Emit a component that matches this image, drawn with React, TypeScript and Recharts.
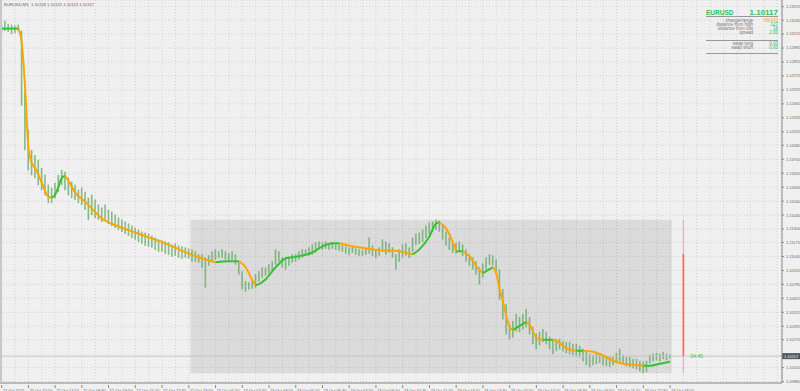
import React from "react";
import {
  ComposedChart,
  Bar,
  Line,
  XAxis,
  YAxis,
  CartesianGrid,
  ReferenceArea,
  ReferenceLine,
  ReferenceDot,
} from "recharts";

// 10-minute high/low of EURUSD, 22 Oct 14:30 -> 23 Oct 23:50
const highs = [
  1.13203, 1.1324, 1.13212, 1.13203, 1.13194, 1.13203, 1.13147, 1.12592, 1.12222, 1.12037,
  1.1199, 1.11944, 1.1187, 1.11805, 1.11713, 1.11685, 1.11731, 1.11805, 1.11851, 1.11833,
  1.11777, 1.1174, 1.11713, 1.11666, 1.11685, 1.11648, 1.11592, 1.1162, 1.11574, 1.11528,
  1.115, 1.11528, 1.11481, 1.11463, 1.11435, 1.11407, 1.11389, 1.1137, 1.11352, 1.11333,
  1.11315, 1.11296, 1.11278, 1.11268, 1.11259, 1.11241, 1.11222, 1.11204, 1.11194, 1.11185,
  1.11176, 1.11157, 1.11167, 1.11148, 1.11139, 1.1113, 1.1112, 1.11111, 1.11093, 1.11065,
  1.11065, 1.11037, 1.11055, 1.11093, 1.11111, 1.11093, 1.11111, 1.11093, 1.11074, 1.11093,
  1.11065, 1.11, 1.10907, 1.10815, 1.10806, 1.10833, 1.1088, 1.10907, 1.10944, 1.10944,
  1.10972, 1.11, 1.11111, 1.11093, 1.11037, 1.11018, 1.11037, 1.11065, 1.11065, 1.11093,
  1.11111, 1.11111, 1.1113, 1.11157, 1.11176, 1.11185, 1.11176, 1.11185, 1.11167, 1.11176,
  1.11167, 1.11157, 1.11148, 1.11139, 1.1113, 1.11139, 1.1112, 1.11111, 1.11102, 1.1113,
  1.11222, 1.11148, 1.11111, 1.1113, 1.11204, 1.11185, 1.11167, 1.1113, 1.11065, 1.11111,
  1.11157, 1.11167, 1.1113, 1.11222, 1.11259, 1.11268, 1.11296, 1.11333, 1.11361, 1.1137,
  1.11389, 1.1138, 1.11342, 1.11278, 1.11222, 1.11185, 1.11167, 1.11185, 1.11157, 1.11111,
  1.11065, 1.11037, 1.11, 1.10944, 1.10981, 1.11037, 1.11065, 1.11055, 1.11018, 1.10926,
  1.10741, 1.10602, 1.10417, 1.10445, 1.10509, 1.10482, 1.10509, 1.10556, 1.10482, 1.10389,
  1.10324, 1.10343, 1.1037, 1.10343, 1.10296, 1.10259, 1.10278, 1.10278, 1.10259, 1.1025,
  1.1025, 1.10232, 1.10232, 1.10213, 1.10185, 1.10158, 1.10139, 1.1013, 1.10139, 1.10139,
  1.1013, 1.10121, 1.10111, 1.10111, 1.10148, 1.10185, 1.1013, 1.10111, 1.10111, 1.10093,
  1.10093, 1.10074, 1.10065, 1.10074, 1.1013, 1.10139, 1.10148, 1.10139, 1.10158, 1.10139,
  1.1013,
];
const lows = [
  1.13129, 1.13147, 1.13138, 1.1312, 1.13129, 1.13147, 1.12453, 1.12037, 1.11851, 1.11805,
  1.11777, 1.11713, 1.11666, 1.1162, 1.11546, 1.11546, 1.11592, 1.11648, 1.11713, 1.11666,
  1.1162, 1.11592, 1.11574, 1.11546, 1.11528, 1.11481, 1.11389, 1.11435, 1.11407, 1.11389,
  1.1137, 1.11389, 1.11352, 1.11333, 1.11315, 1.11296, 1.11278, 1.11259, 1.11241, 1.11222,
  1.11204, 1.11185, 1.11167, 1.11148, 1.11139, 1.1113, 1.11111, 1.11093, 1.11093, 1.11074,
  1.11065, 1.11046, 1.11055, 1.11037, 1.11028, 1.11037, 1.11028, 1.11, 1.11, 1.10991,
  1.10944, 1.10759, 1.10963, 1.11, 1.11018, 1.11037, 1.11037, 1.11018, 1.11, 1.11018,
  1.10972, 1.1088, 1.10741, 1.10722, 1.10741, 1.1075, 1.10759, 1.10815, 1.10852, 1.1087,
  1.1088, 1.10907, 1.10972, 1.11, 1.10944, 1.10926, 1.10963, 1.10991, 1.11, 1.11018,
  1.11037, 1.11055, 1.11055, 1.11065, 1.11083, 1.11111, 1.11111, 1.1112, 1.11111, 1.1112,
  1.11111, 1.11102, 1.11093, 1.11074, 1.11065, 1.11083, 1.11065, 1.11055, 1.11055, 1.11065,
  1.11074, 1.11055, 1.11037, 1.11055, 1.11093, 1.11065, 1.11083, 1.11037, 1.10926, 1.11,
  1.11037, 1.11055, 1.11037, 1.11093, 1.11157, 1.11167, 1.11185, 1.11222, 1.1125, 1.11278,
  1.11296, 1.11278, 1.11204, 1.11148, 1.11111, 1.11083, 1.11074, 1.11093, 1.11055, 1.11,
  1.10963, 1.10926, 1.1088, 1.10787, 1.10852, 1.10926, 1.10972, 1.10963, 1.1088, 1.10648,
  1.10463, 1.10324, 1.10278, 1.10296, 1.10352, 1.10343, 1.1037, 1.10389, 1.10324, 1.10232,
  1.10185, 1.10222, 1.1025, 1.10232, 1.10185, 1.10139, 1.10167, 1.10185, 1.10167, 1.10148,
  1.10139, 1.1013, 1.10121, 1.10111, 1.10074, 1.10037, 1.10019, 1.10037, 1.10046, 1.10056,
  1.10037, 1.10028, 1.10019, 1.10037, 1.10056, 1.10074, 1.10046, 1.10028, 1.10019, 1.10009,
  1.1, 1.09982, 1.09963, 1.09972, 1.10056, 1.10074, 1.10083, 1.10074, 1.10093, 1.10083,
  1.10102,
];

// smoothed moving average, sampled at these bar indices
const maIdx = [
  0, 3, 5, 6, 7, 8, 9, 10, 12, 14, 15, 16, 17, 18, 19, 20, 22, 25, 27, 30, 35, 40, 44, 49, 53,
  59, 64, 68, 71, 73, 75, 76, 77, 79, 82, 85, 87, 89, 93, 96, 99, 101, 105, 109, 113, 117, 119,
  123, 125, 128, 130, 131, 133, 135, 136, 138, 140, 142, 144, 146, 147, 148, 149, 150, 151, 152,
  153, 155, 157, 158, 159, 160, 162, 165, 166, 168, 170, 172, 174, 177, 180, 183, 186, 189, 192,
  194, 197, 200,
];
const maVal = [
  1.13166, 1.13166, 1.13166, 1.13036, 1.1262, 1.12064, 1.11916, 1.1187, 1.11731, 1.11602,
  1.11592, 1.1162, 1.11694, 1.11777, 1.11796, 1.1175, 1.11639, 1.11555, 1.1149, 1.11398,
  1.11324, 1.11268, 1.11222, 1.11167, 1.11111, 1.11037, 1.10991, 1.11, 1.11, 1.10944,
  1.10824, 1.10778, 1.10787, 1.10833, 1.10944, 1.11028, 1.11037, 1.11046, 1.11083, 1.11139,
  1.11167, 1.11167, 1.11139, 1.1112, 1.11102, 1.11098, 1.11093, 1.11065, 1.11111, 1.11231,
  1.11352, 1.11361, 1.11305, 1.11176, 1.11093, 1.11093, 1.11046, 1.10954, 1.10889, 1.10926,
  1.10944, 1.10889, 1.10741, 1.1062, 1.10491, 1.10389, 1.10361, 1.10398, 1.10435, 1.10408,
  1.10343, 1.10287, 1.10269, 1.10269, 1.10259, 1.10213, 1.10176, 1.10167, 1.10167, 1.10158,
  1.10121, 1.10074, 1.10047, 1.10037, 1.10028, 1.10028, 1.10047, 1.10065,
];

const timeLabels = [
  "22 Oct 2015", "22 Oct 15:50", "22 Oct 17:10", "22 Oct 18:30", "22 Oct 19:50", "22 Oct 21:10",
  "22 Oct 22:30", "22 Oct 23:50", "23 Oct 01:10", "23 Oct 02:30", "23 Oct 03:50", "23 Oct 05:10",
  "23 Oct 06:30", "23 Oct 07:50", "23 Oct 09:10", "23 Oct 10:30", "23 Oct 11:50", "23 Oct 13:10",
  "23 Oct 14:30", "23 Oct 15:50", "23 Oct 17:10", "23 Oct 18:30", "23 Oct 19:50", "23 Oct 21:10",
  "23 Oct 22:30", "23 Oct 23:50",
];
// 1.10140 sits under the bid tag in the reference, so it is left out
const priceTicks = [
  1.1337, 1.13245, 1.13115, 1.12985, 1.12855, 1.12725, 1.12595, 1.12465, 1.12335, 1.12205,
  1.1208, 1.1195, 1.1182, 1.1169, 1.1156, 1.1143, 1.113, 1.11175, 1.11045, 1.10915, 1.10785,
  1.10655, 1.10525, 1.10395, 1.1027, 1.1001, 1.0988,
];

const bid = 1.10117;
const dayOpen = 1.11067;
const dayHigh = 1.11387;
const dayLow = 1.09957;
const sessionStartBar = 57;
const markerBar = 204;
const SLOTS = 234; // bar slots incl. empty space right of the last bar
const LABEL_EVERY = 8;

const GREEN = "#34c234";
const ORANGE = "#ffa500";
const INFO_GREEN = "#2fbf5f";

const rows: any[] = Array.from({ length: SLOTS }, (_, i) => {
  const r: any = { i };
  if (i < highs.length) r.hl = [lows[i], highs[i]];
  return r;
});

// split the MA into rising (green) / falling (orange) runs
const runs: { key: string; up: boolean }[] = [];
let lastUp: boolean | null = null;
for (let j = 0; j < maIdx.length - 1; j++) {
  const up = maVal[j + 1] >= maVal[j];
  if (up !== lastUp) {
    runs.push({ key: `ma${runs.length}`, up });
    rows[maIdx[j]][runs[runs.length - 1].key] = maVal[j];
    lastUp = up;
  }
  rows[maIdx[j + 1]][runs[runs.length - 1].key] = maVal[j + 1];
}

const gridTicks = rows.filter((r) => r.i % 4 === 0).map((r) => r.i);

const HiLoBar = (p: any) => {
  const { x, y, width, height } = p;
  if (x == null || y == null || !height) return null;
  const cx = x + width / 2;
  const top = Math.min(y, y + height);
  const bot = Math.max(y, y + height);
  return (
    <g stroke="#62a862" strokeOpacity={0.75}>
      <line x1={cx} x2={cx} y1={top} y2={bot + 0.5} strokeWidth={1.6} />
    </g>
  );
};

const TimeTick = (p: any) => {
  const { x, y, payload } = p;
  const i = payload.value;
  if (i % LABEL_EVERY !== 0 || i / LABEL_EVERY >= timeLabels.length) return null;
  return (
    <g>
      <line x1={x} x2={x} y1={y - 2} y2={y + 1} stroke="#888" />
      <text x={x + 1} y={y + 4.5} fontSize={4} fill="#666">
        {timeLabels[i / LABEL_EVERY]}
      </text>
    </g>
  );
};

const PriceTag = (p: any) => {
  const vb = p.viewBox;
  if (!vb) return null;
  const x = vb.x + vb.width;
  return (
    <g>
      <rect x={x} y={vb.y - 3} width={18} height={6} fill="#555" />
      <text x={x + 2} y={vb.y + 1.5} fontSize={4} fill="#fff">
        {bid.toFixed(5)}
      </text>
    </g>
  );
};

const info = [
  { label: "change/range", value: "-95/143", color: ORANGE },
  { label: "distance from high", value: "127", color: INFO_GREEN },
  { label: "distance from low", value: "16", color: INFO_GREEN },
  { label: "spread", value: "2.00", color: INFO_GREEN },
];
const swaps = [
  { label: "swap long", value: "0.00" },
  { label: "swap short", value: "0.00" },
];

export default function App() {
  return (
    <div
      style={{
        position: "absolute",
        left: 0,
        top: 0,
        width: 800,
        height: 391,
        background: "#f0f0f0",
        fontFamily: "'Liberation Sans', Arial, sans-serif",
        overflow: "hidden",
      }}
    >
      <ComposedChart width={800} height={391} data={rows} margin={{ top: 0, right: 0, left: 0, bottom: 0 }} barCategoryGap={0}>
        <CartesianGrid stroke="#d2d2d2" strokeDasharray="1 2" />
        <ReferenceArea
          x1={sessionStartBar}
          x2={highs.length - 1}
          y1={dayLow}
          y2={dayHigh}
          fill="#000"
          fillOpacity={0.085}
          stroke="none"
        />
        <XAxis
          dataKey="i"
          type="category"
          ticks={gridTicks}
          interval={0}
          height={8}
          tickSize={2}
          tickLine={false}
          axisLine={{ stroke: "#888" }}
          tick={<TimeTick />}
        />
        <YAxis
          orientation="right"
          width={18}
          type="number"
          domain={[1.09867, 1.13432]}
          allowDataOverflow
          ticks={priceTicks}
          interval={0}
          tickSize={2}
          tickLine={{ stroke: "#888" }}
          axisLine={{ stroke: "#888" }}
          tick={{ fontSize: 4, fill: "#666" }}
          tickFormatter={(v: number) => v.toFixed(5)}
        />
        <ReferenceLine y={bid} stroke="#c4c4c4" label={<PriceTag />} />
        <Bar dataKey="hl" shape={<HiLoBar />} isAnimationActive={false} />
        {runs.map((r) => (
          <Line
            key={r.key}
            dataKey={r.key}
            type="monotone"
            stroke={r.up ? GREEN : ORANGE}
            strokeWidth={2}
            dot={false}
            activeDot={false}
            connectNulls
            isAnimationActive={false}
          />
        ))}
        <ReferenceLine
          segment={[
            { x: markerBar, y: dayHigh },
            { x: markerBar, y: dayLow },
          ]}
          stroke="#f3aabb"
          strokeWidth={1.3}
        />
        <ReferenceLine
          segment={[
            { x: markerBar, y: dayOpen },
            { x: markerBar, y: bid },
          ]}
          stroke="#ff6a3d"
          strokeWidth={1.6}
        />
        <ReferenceDot
          x={markerBar + 4}
          y={bid}
          r={0}
          label={{ value: "24:45", position: "center", fill: "#3cc83c", fontSize: 5 }}
        />
      </ComposedChart>

      <div style={{ position: "absolute", left: 0, top: 0, width: 1.5, height: 383, background: "#c8c8c8" }} />
      <div style={{ position: "absolute", left: 4, top: 2, fontSize: 4.2, color: "#666", whiteSpace: "pre" }}>
        EURUSD,M5  1.10118 1.10122 1.10113 1.10117
      </div>

      <div style={{ position: "absolute", left: 706, top: 6, width: 72, fontSize: 4.5, lineHeight: "4px" }}>
        <div style={{ display: "flex", justifyContent: "space-between", alignItems: "flex-end", height: 9 }}>
          <span style={{ color: INFO_GREEN, fontSize: 6.5, fontWeight: "bold" }}>EURUSD</span>
          <span style={{ color: INFO_GREEN, fontSize: 8, fontWeight: "bold" }}>1.10117</span>
        </div>
        <div style={{ borderTop: "1px solid #999", marginTop: 1, paddingTop: 1.5 }}>
          {info.map((r) => (
            <div key={r.label} style={{ display: "flex", justifyContent: "flex-end", height: 4 }}>
              <span style={{ color: "#777" }}>{r.label}</span>
              <span style={{ color: r.color, width: 25, textAlign: "right" }}>{r.value}</span>
            </div>
          ))}
        </div>
        <div style={{ borderTop: "1px solid #999", marginTop: 5, paddingTop: 1.5 }}>
          {swaps.map((r) => (
            <div key={r.label} style={{ display: "flex", justifyContent: "flex-end", height: 4 }}>
              <span style={{ color: "#777" }}>{r.label}</span>
              <span style={{ color: INFO_GREEN, width: 25, textAlign: "right" }}>{r.value}</span>
            </div>
          ))}
        </div>
        <div style={{ borderTop: "1px solid #999", marginTop: 3 }} />
      </div>
    </div>
  );
}
